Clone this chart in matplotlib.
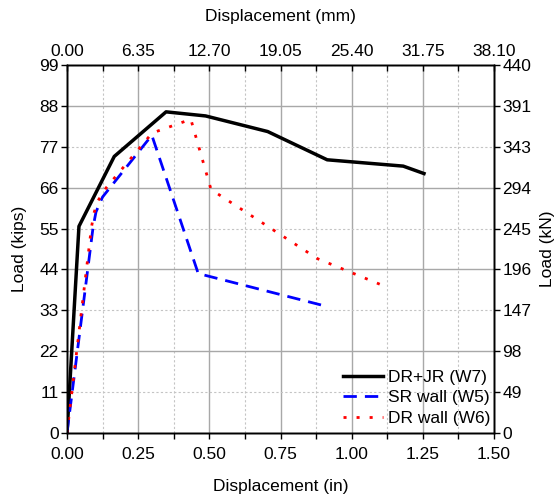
import numpy as np
import matplotlib.pyplot as plt

plt.rcParams['font.family'] = ['Liberation Sans', 'DejaVu Sans']
plt.rcParams['font.size'] = 12.5

# ---- data (inches, kips)
w7_x = [0.0, 0.042, 0.166, 0.348, 0.487, 0.705, 0.914, 1.181, 1.254]
w7_y = [0.0, 55.6, 74.4, 86.4, 85.3, 81.1, 73.5, 71.8, 69.8]

w5_x = [0.0, 0.092, 0.102, 0.125, 0.298, 0.461, 0.910]
w5_y = [0.0, 55.6, 59.5, 63.5, 80.1, 42.9, 34.1]

w6_x = [0.0, 0.086, 0.096, 0.109, 0.138, 0.299, 0.435, 0.506, 0.880, 1.109]
w6_y = [0.0, 55.4, 59.5, 62.5, 66.0, 80.7, 84.4, 65.5, 46.9, 39.7]

labels = ['DR+JR (W7)', 'SR wall (W5)', 'DR wall (W6)']

x_ticks = [0.0, 0.25, 0.5, 0.75, 1.0, 1.25, 1.5]
y_ticks = [0, 11, 22, 33, 44, 55, 66, 77, 88, 99]
mm_labels = ['0.00', '6.35', '12.70', '19.05', '25.40', '31.75', '38.10']
kn_labels = ['0', '49', '98', '147', '196', '245', '294', '343', '391', '440']

fig = plt.figure(figsize=(5.56, 4.99), dpi=100)
ax = fig.add_axes([0.1205, 0.1323, 0.768, 0.7374])

# grid: solid at major, dotted at minor
for xv in np.arange(0.125, 1.5, 0.125):
    if abs(xv / 0.25 - round(xv / 0.25)) < 1e-6:
        ax.axvline(xv, color='#a8a8a8', lw=1.0, zorder=0)
    else:
        ax.axvline(xv, color='#c4c4c4', lw=0.8, ls=(0, (2, 2)), zorder=0)
for yv in y_ticks[1:]:
    if yv % 22 == 0:
        ax.axhline(yv, color='#a8a8a8', lw=1.0, zorder=0)
    else:
        ax.axhline(yv, color='#c4c4c4', lw=0.8, ls=(0, (2, 2)), zorder=0)

ax.plot(w7_x, w7_y, color='black', lw=2.5, label=labels[0])
ax.plot(w5_x, w5_y, color='#0000ff', lw=2.0, ls=(0, (4.8, 2.9)), label=labels[1])
ax.plot(w6_x, w6_y, color='#ff0000', lw=2.0, ls=(0, (1.1, 3.6)), label=labels[2])

ax.set_xlim(0, 1.5)
ax.set_ylim(0, 99)
ax.set_xticks(x_ticks)
ax.set_xticklabels(['%.2f' % v for v in x_ticks])
ax.set_xticks(np.arange(0.125, 1.5, 0.25), minor=True)
ax.set_yticks(y_ticks)
ax.tick_params(direction='out', length=4, width=1, pad=2)
ax.tick_params(axis='x', pad=6)
ax.tick_params(which='minor', direction='out', length=4, width=1)
ax.set_xlabel('Displacement (in)', labelpad=12)
ax.set_ylabel('Load (kips)', labelpad=9)

ax_top = ax.twiny()
ax_top.set_xlim(0, 1.5)
ax_top.set_xticks(x_ticks)
ax_top.set_xticklabels(mm_labels)
ax_top.set_xticks(np.arange(0.125, 1.5, 0.25), minor=True)
ax_top.tick_params(direction='in', length=4, width=1, pad=4)
ax_top.tick_params(which='minor', direction='in', length=4, width=1)
ax_top.set_xlabel('Displacement (mm)', labelpad=17)

ax_r = ax.twinx()
ax_r.set_ylim(0, 99)
ax_r.set_yticks(y_ticks)
ax_r.set_yticklabels(kn_labels)
ax_r.tick_params(direction='out', length=4, width=1, pad=2)
ax_r.set_ylabel('Load (kN)', labelpad=6)

for a in (ax, ax_top, ax_r):
    for s in a.spines.values():
        s.set_linewidth(1.0)

ax.legend(loc='lower right', bbox_to_anchor=(1.0, 0.01), frameon=False,
          handlelength=2.3, handletextpad=0.3, labelspacing=0.3,
          borderpad=0, borderaxespad=0.2)

fig.savefig('out.png', dpi=100)
